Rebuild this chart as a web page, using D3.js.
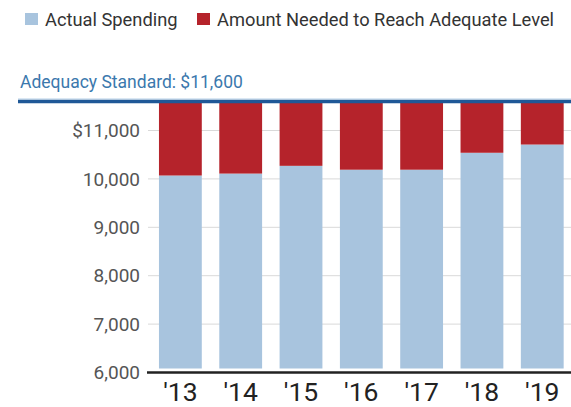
<!DOCTYPE html>
<html>
<head>
  <script src="https://d3js.org/d3.v7.min.js"></script>
  <style>
    body { margin: 0; background: #fff; }
    svg { display: block; font-family: Roboto, "Noto Sans", sans-serif; }
  </style>
</head>
<body>
  <script>
    const years = ["'13", "'14", "'15", "'16", "'17", "'18", "'19"];
    const actual = [10070, 10110, 10270, 10190, 10190, 10540, 10710];
    const standard = 11600;
    const yTicks = [6000, 7000, 8000, 9000, 10000, 11000];
    const legendLabels = ["Actual Spending", "Amount Needed to Reach Adequate Level"];

    const width = 571, height = 407;
    const blue = "#a8c4de", red = "#b5232b", lineBlue = "#1f5897";

    const svg = d3.select("body").append("svg")
      .attr("width", width)
      .attr("height", height);

    const x = d3.scaleBand()
      .domain(years)
      .range([147, 571])
      .paddingInner(0.29)
      .paddingOuter(0.16)
      .align(0.62);

    const y = d3.scaleLinear()
      .domain([6000, 11000])
      .range([372.5, 130.5]);

    // gridlines + y labels
    const grid = svg.append("g");
    grid.selectAll("line")
      .data(yTicks.slice(1))
      .join("line")
      .attr("x1", 148).attr("x2", width)
      .attr("y1", d => y(d)).attr("y2", d => y(d))
      .attr("stroke", "#d9d9d9")
      .attr("stroke-width", 1);

    grid.selectAll("text")
      .data(yTicks)
      .join("text")
      .attr("x", 140)
      .attr("y", d => y(d))
      .attr("dy", "0.35em")
      .attr("text-anchor", "end")
      .attr("font-size", 19)
      .attr("fill", "#555")
      .text(d => (d === 11000 ? "$" : "") + d3.format(",")(d));

    // bars
    const bars = svg.append("g");
    bars.selectAll("rect.actual")
      .data(actual)
      .join("rect")
      .attr("class", "actual")
      .attr("x", (d, i) => x(years[i]))
      .attr("width", x.bandwidth())
      .attr("y", d => y(d))
      .attr("height", d => y(6000) - 4 - y(d))
      .attr("fill", blue);

    bars.selectAll("rect.gap")
      .data(actual)
      .join("rect")
      .attr("class", "gap")
      .attr("x", (d, i) => x(years[i]))
      .attr("width", x.bandwidth())
      .attr("y", y(standard))
      .attr("height", d => y(d) - y(standard))
      .attr("fill", red);

    // x axis
    svg.append("line")
      .attr("x1", 147).attr("x2", width)
      .attr("y1", y(6000)).attr("y2", y(6000))
      .attr("stroke", "#222")
      .attr("stroke-width", 2.5);

    svg.append("g").selectAll("text")
      .data(years)
      .join("text")
      .attr("x", d => x(d) + x.bandwidth() / 2)
      .attr("y", 401)
      .attr("text-anchor", "middle")
      .attr("font-size", 26.5)
      .attr("fill", "#222")
      .text(d => d);

    // adequacy standard line
    svg.append("line")
      .attr("x1", 18).attr("x2", width)
      .attr("y1", y(standard) - 2.5).attr("y2", y(standard) - 2.5)
      .attr("stroke", "#bcd4ea")
      .attr("stroke-width", 1);
    svg.append("line")
      .attr("x1", 18).attr("x2", width)
      .attr("y1", y(standard)).attr("y2", y(standard))
      .attr("stroke", lineBlue)
      .attr("stroke-width", 3.5);

    svg.append("text")
      .attr("x", 20)
      .attr("y", 88)
      .attr("font-size", 17.5)
      .attr("fill", "#3b78ad")
      .text("Adequacy Standard: $" + d3.format(",")(standard));

    // legend
    const legend = svg.append("g");
    const legendX = [25, 197];
    const legendColors = [blue, red];
    legendLabels.forEach((label, i) => {
      legend.append("rect")
        .attr("x", legendX[i]).attr("y", 13)
        .attr("width", 13).attr("height", 12)
        .attr("fill", legendColors[i]);
      legend.append("text")
        .attr("x", legendX[i] + 20)
        .attr("y", 25.5)
        .attr("font-size", 18.3)
        .attr("fill", "#333")
        .text(label);
    });
  </script>
</body>
</html>
